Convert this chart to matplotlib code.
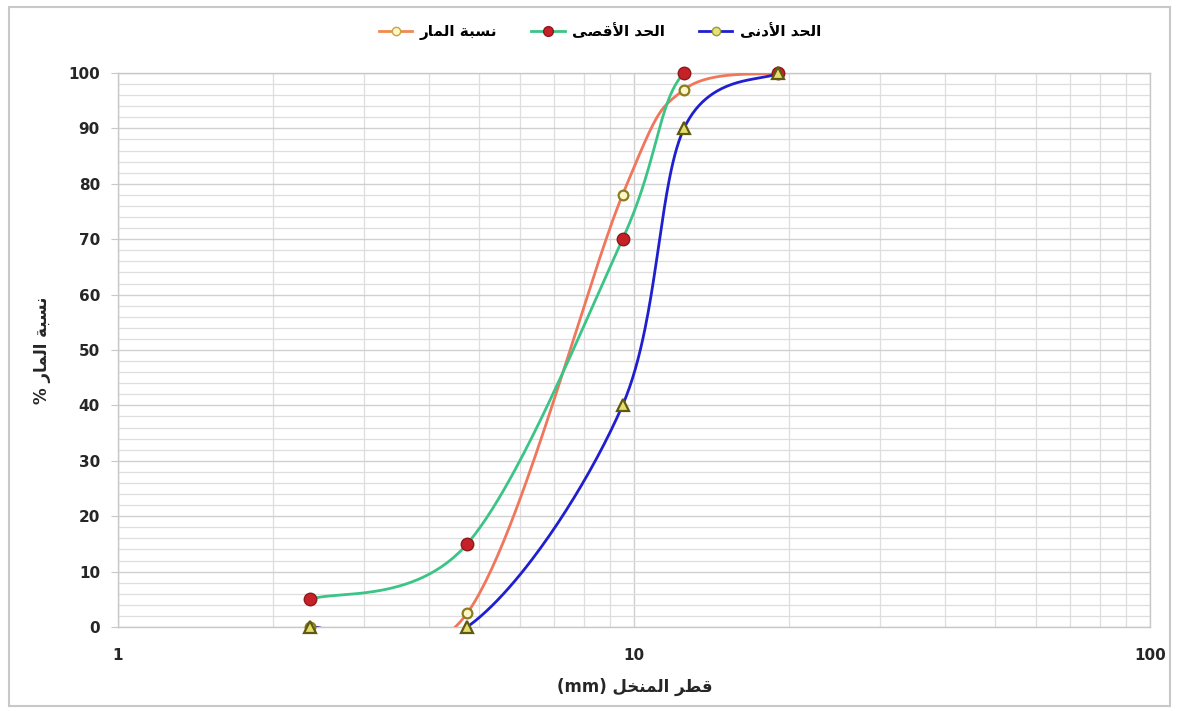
import numpy as np
import matplotlib
matplotlib.use("Agg")
import matplotlib.pyplot as plt
from matplotlib.patches import Rectangle
from matplotlib.ticker import FixedLocator, NullFormatter, MultipleLocator

plt.rcParams['font.family'] = ['DejaVu Sans']
plt.rcParams['font.weight'] = 'bold'

# ---------------- data ----------------
sieve_mm = [2.36, 4.75, 9.5, 12.5, 19]
passing = [0, 2.5, 78, 97, 100]      # نسبة المار
upper_limit = [5, 15, 70, 100, 100]  # الحد الأقصى
lower_limit = [0, 0, 40, 90, 100]    # الحد الأدنى

label_passing = "نسبة المار"
label_upper = "الحد الأقصى"
label_lower = "الحد الأدنى"
xlabel_ar = "قطر المنخل"
ylabel_ar = "نسبة المار"

x_ticks = [1, 10, 100]
y_ticks = list(range(0, 101, 10))

# ---------------- simple Arabic shaping ----------------
FORMS = {
    'ا': (0xFE8D, 0xFE8E, None, None),
    'أ': (0xFE83, 0xFE84, None, None),
    'ل': (0xFEDD, 0xFEDE, 0xFEDF, 0xFEE0),
    'ح': (0xFEA1, 0xFEA2, 0xFEA3, 0xFEA4),
    'د': (0xFEA9, 0xFEAA, None, None),
    'ن': (0xFEE5, 0xFEE6, 0xFEE7, 0xFEE8),
    'ى': (0xFEEF, 0xFEF0, 0xFBE8, 0xFBE9),
    'ق': (0xFED5, 0xFED6, 0xFED7, 0xFED8),
    'ص': (0xFEB9, 0xFEBA, 0xFEBB, 0xFEBC),
    'س': (0xFEB1, 0xFEB2, 0xFEB3, 0xFEB4),
    'ب': (0xFE8F, 0xFE90, 0xFE91, 0xFE92),
    'ة': (0xFE93, 0xFE94, None, None),
    'م': (0xFEE1, 0xFEE2, 0xFEE3, 0xFEE4),
    'ر': (0xFEAD, 0xFEAE, None, None),
    'ط': (0xFEC1, 0xFEC2, 0xFEC3, 0xFEC4),
    'خ': (0xFEA5, 0xFEA6, 0xFEA7, 0xFEA8),
    'لا': (0xFEFB, 0xFEFC, None, None),
    'لأ': (0xFEF7, 0xFEF8, None, None),
}


def shape_word(word):
    toks = []
    i = 0
    while i < len(word):
        if word[i] == 'ل' and i + 1 < len(word) and word[i + 1] in 'اأ':
            toks.append(word[i:i + 2])
            i += 2
        else:
            toks.append(word[i])
            i += 1
    out = []
    for k, t in enumerate(toks):
        f = FORMS.get(t)
        if f is None:
            out.append(t)
            continue
        prev_joins = k > 0 and toks[k - 1] in FORMS and FORMS[toks[k - 1]][2] is not None
        next_joins = f[2] is not None and k + 1 < len(toks) and toks[k + 1] in FORMS
        if prev_joins and next_joins:
            c = f[3]
        elif prev_joins:
            c = f[1]
        elif next_joins:
            c = f[2]
        else:
            c = f[0]
        out.append(chr(c))
    return ''.join(out)


def ar(text):
    shaped = ' '.join(shape_word(w) for w in text.split(' '))
    return shaped[::-1]


# ---------------- Excel-like smoothing ----------------
SX = 516.0   # px per decade
SY = 5.54    # px per percent


def smooth(xs, ys, n=60):
    P = np.column_stack([np.log10(xs) * SX, np.asarray(ys, float) * SY])
    pts = []
    m = len(P)
    t = np.linspace(0, 1, n)[:, None]
    for i in range(m - 1):
        p0 = P[i - 1] if i > 0 else P[i]
        p1 = P[i]
        p2 = P[i + 1]
        p3 = P[i + 2] if i + 2 < m else P[i + 1]
        c1 = p1 + (p2 - p0) / 6.0
        c2 = p2 - (p3 - p1) / 6.0
        seg = ((1 - t) ** 3) * p1 + 3 * ((1 - t) ** 2) * t * c1 + 3 * (1 - t) * t ** 2 * c2 + t ** 3 * p2
        pts.append(seg if i == 0 else seg[1:])
    S = np.vstack(pts)
    return 10 ** (S[:, 0] / SX), S[:, 1] / SY


# ---------------- figure ----------------
W, H = 1177, 711
fig = plt.figure(figsize=(W / 100, H / 100), dpi=100)
fig.patch.set_facecolor('white')
fig.patches.append(Rectangle((9 / W, 1 - 706 / H), (1170 - 9) / W, (706 - 7) / H,
                             transform=fig.transFigure, fill=False,
                             edgecolor='#c8c8c8', linewidth=1.5))

ax = fig.add_axes([118 / W, 1 - 627 / H, (1150 - 118) / W, (627 - 73) / H])
ax.set_xscale('log')
ax.set_xlim(1, 100)
ax.set_ylim(0, 100)

# grid
ax.yaxis.set_major_locator(FixedLocator(y_ticks))
ax.yaxis.set_minor_locator(MultipleLocator(2))
ax.xaxis.set_major_locator(FixedLocator(x_ticks))
ax.xaxis.set_minor_locator(FixedLocator([d * k for d in (1, 10) for k in range(2, 10)]))
ax.xaxis.set_minor_formatter(NullFormatter())
ax.grid(which='major', color='#d0d0d0', linewidth=1.0)
ax.grid(which='minor', color='#dedede', linewidth=0.9)
ax.set_axisbelow(True)
for s in ax.spines.values():
    s.set_color('#c8c8c8')
    s.set_linewidth(1.0)

ax.set_xticks(x_ticks)
ax.set_xticklabels([str(v) for v in x_ticks])
ax.set_yticks(y_ticks)
ax.set_yticklabels([str(v) for v in y_ticks])
ax.tick_params(axis='y', which='major', length=5, color='#c8c8c8', pad=8, labelsize=11)
ax.tick_params(axis='y', which='minor', length=0)
ax.tick_params(axis='x', which='both', length=0, pad=15, labelsize=11)
for lbl in ax.get_xticklabels() + ax.get_yticklabels():
    lbl.set_fontweight('bold')
    lbl.set_color('#262626')

c_pass = '#f0765c'
c_up = '#3cc487'
c_low = '#1f1fd0'

# lines
xs, ys = smooth(sieve_mm, passing)
l_pass, = ax.plot(xs, ys, color=c_pass, lw=2.0, zorder=3)
xs, ys = smooth(sieve_mm, upper_limit)
l_up, = ax.plot(xs, ys, color=c_up, lw=2.0, zorder=3)
xs, ys = smooth(sieve_mm, lower_limit)
l_low, = ax.plot(xs, ys, color=c_low, lw=2.0, zorder=3)

# markers
ax.plot(sieve_mm, passing, ls='none', marker='o', ms=7, mfc='#fff6c8', mec='#8a7d1e',
        mew=1.6, zorder=5, clip_on=False)
ax.plot(sieve_mm, upper_limit, ls='none', marker='o', ms=9, mfc='#c62128', mec='#8c1a1a',
        mew=1.0, zorder=5, clip_on=False)
ax.plot(sieve_mm, lower_limit, ls='none', marker='^', ms=9, mfc='#e6dd6a', mec='#5f5a12',
        mew=1.6, zorder=6, clip_on=False)

# legend handles
h_pass, = ax.plot([], [], color='#f08a50', lw=2, marker='o', ms=6, mfc='#fff6c8', mec='#c9a43a')
h_up, = ax.plot([], [], color=c_up, lw=2, marker='o', ms=7, mfc='#c62128', mec='#8c1a1a')
h_low, = ax.plot([], [], color=c_low, lw=2, marker='o', ms=6, mfc='#e6e27a', mec='#9a9a30')
fig.legend([h_pass, h_up, h_low], [ar(label_passing), ar(label_upper), ar(label_lower)],
           loc='center', bbox_to_anchor=(600 / W, 1 - 32 / H), ncol=3, frameon=False,
           prop={'weight': 'bold', 'size': 11}, handlelength=2.2, columnspacing=2.2,
           handletextpad=0.5)

ax.set_xlabel('(mm) ' + ar(xlabel_ar), fontsize=12, fontweight='bold', color='#262626')
ax.xaxis.set_label_coords((635 - 118) / 1032, (627 - 687) / 554)
ax.xaxis.label.set_va('center')
ax.set_ylabel('% ' + ar(ylabel_ar), fontsize=12, fontweight='bold', color='#262626')
ax.yaxis.set_label_coords((42 - 118) / 1032, (627 - 350) / 554)
ax.yaxis.label.set_va('center')

fig.savefig('out.png', dpi=100, facecolor='white')
